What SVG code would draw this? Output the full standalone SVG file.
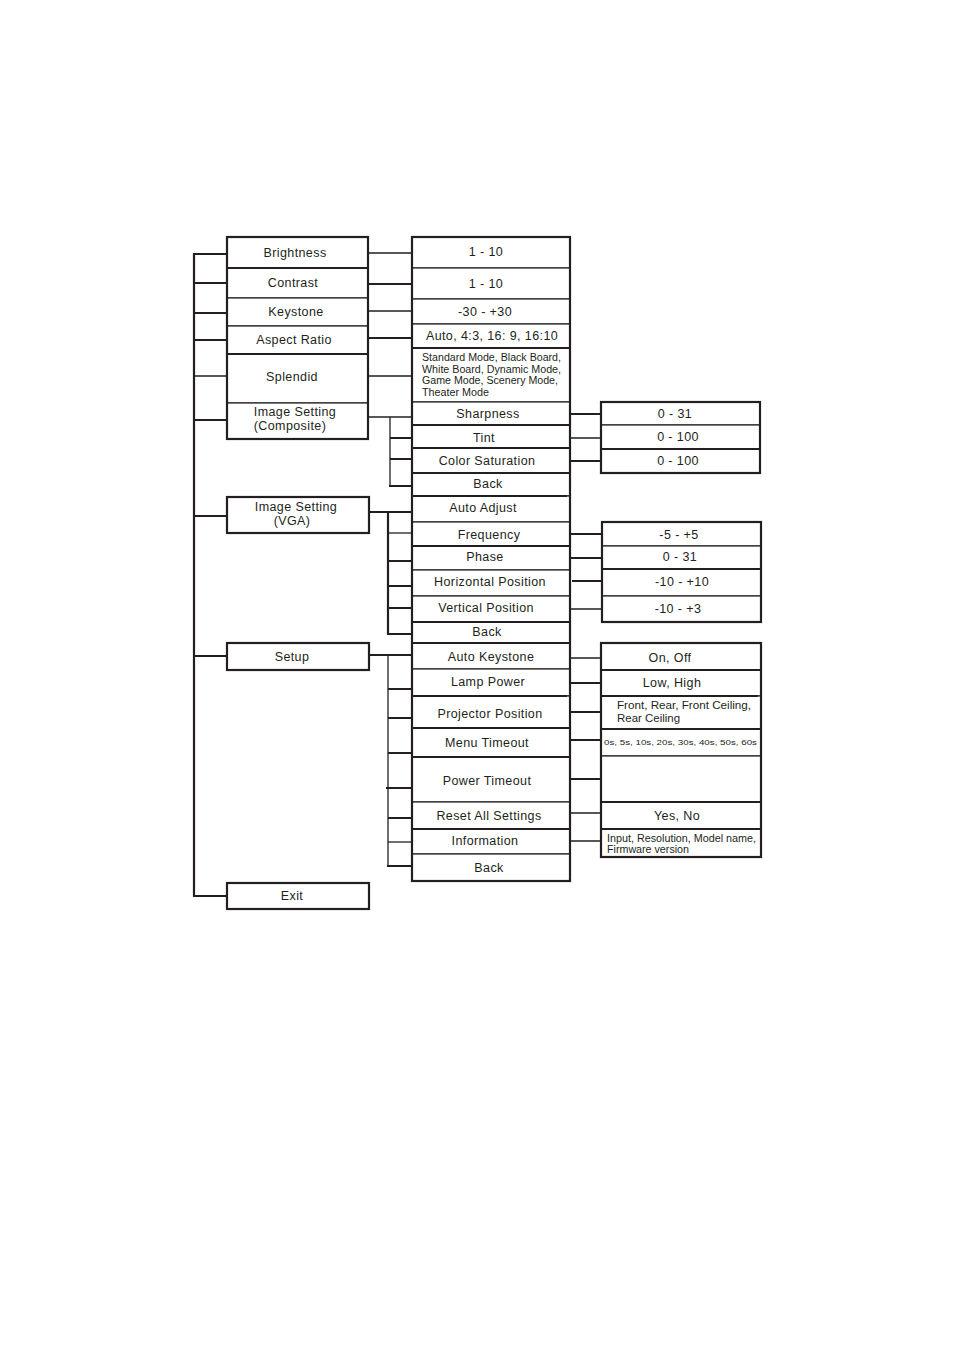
<svg xmlns="http://www.w3.org/2000/svg" width="954" height="1350" viewBox="0 0 954 1350">
<style>
.c{fill:#fff;stroke:#231f20;stroke-width:1.2}
.f{fill:none;stroke:#231f20;stroke-width:2.2}
.k{stroke:#231f20;stroke-width:2.2;fill:none}
.n{stroke:#231f20;stroke-width:1.3;fill:none}
text{font-family:"Liberation Sans",Arial,sans-serif;font-size:12.5px;letter-spacing:0.4px;fill:#231f20;text-anchor:middle}
text.s{font-size:10px;letter-spacing:0;text-anchor:start}
text.m{font-size:10.6px;letter-spacing:0;text-anchor:start}
text.xs{font-size:7.8px;letter-spacing:0;text-anchor:start}
</style>
<rect width="954" height="1350" fill="#fff"/>

<g id="connectors">
  <path class="k" d="M194,253V897"/>
  <path class="k" d="M194,254H227M194,283H227M194,313H227M194,340H227M194,420H227M194,516H227M194,656H227M194,896H227"/>
  <path class="n" d="M194,376H227"/>
  <path class="n" d="M368,253H412M368,311H412M368,376H412M368,417H412"/>
  <path class="k" d="M368,284H412M368,338H412"/>
  <path class="n" d="M390,417V486"/>
  <path class="k" d="M390,438H412M390,459H412M389,486H412"/>
  <path class="k" d="M368,512H412M388,511V635M388,561H412M388,586H412M388,608H412M387,634H412"/>
  <path class="n" d="M388,533H412"/>
  <path class="k" d="M368,655H412"/>
  <path class="n" d="M388,655V867"/>
  <path class="k" d="M388,689H412M388,718H412M388,753H412M386,788H412M388,818H412M387,866H412"/>
  <path class="n" d="M388,842H412"/>
  <path class="k" d="M570,414H601M570,461H601M570,534H602M570,558H602M572,581H602M570,683H601M570,712H601M570,740H601M570,779H601"/>
  <path class="n" d="M570,438H601M570,609H602M570,658H601M570,813H601M570,841H601"/>
</g>

<g id="brightness"><rect class="c" x="227" y="237" width="141" height="31"/><text x="295" y="256.5">Brightness</text></g>
<g id="contrast"><rect class="c" x="227" y="268" width="141" height="30"/><text x="293" y="286.5">Contrast</text></g>
<g id="keystone"><rect class="c" x="227" y="298" width="141" height="28"/><text x="296" y="315.5">Keystone</text></g>
<g id="aspect-ratio"><rect class="c" x="227" y="326" width="141" height="28"/><text x="294" y="343.5">Aspect Ratio</text></g>
<g id="splendid"><rect class="c" x="227" y="354" width="141" height="49"/><text x="292" y="380.5">Splendid</text></g>
<g id="image-setting-composite"><rect class="c" x="227" y="403" width="141" height="36"/><text x="295" y="415.5">Image Setting</text><text x="290" y="429.5">(Composite)</text></g>
<g id="image-setting-vga"><rect class="c" x="227" y="497" width="142" height="36"/><text x="296" y="511">Image Setting</text><text x="292" y="525">(VGA)</text></g>
<g id="setup"><rect class="c" x="227" y="643" width="142" height="27"/><text x="292" y="660.5">Setup</text></g>
<g id="exit"><rect class="c" x="227" y="883" width="142" height="26"/><text x="292" y="899.5">Exit</text></g>

<g id="brightness-range"><rect class="c" x="412" y="237" width="158" height="31"/><text x="486" y="255.5">1 - 10</text></g>
<g id="contrast-range"><rect class="c" x="412" y="268" width="158" height="31"/><text x="486" y="288">1 - 10</text></g>
<g id="keystone-range"><rect class="c" x="412" y="299" width="158" height="25"/><text x="485" y="315.5">-30 - +30</text></g>
<g id="aspect-options"><rect class="c" x="412" y="324" width="158" height="24"/><text x="492" y="339.5">Auto, 4:3, 16: 9, 16:10</text></g>
<g id="splendid-options"><rect class="c" x="412" y="348" width="158" height="54"/>
  <text class="s" x="422" y="361" textLength="139" lengthAdjust="spacingAndGlyphs">Standard Mode, Black Board,</text>
  <text class="s" x="422" y="372.5" textLength="139" lengthAdjust="spacingAndGlyphs">White Board, Dynamic Mode,</text>
  <text class="s" x="422" y="384" textLength="136" lengthAdjust="spacingAndGlyphs">Game Mode, Scenery Mode,</text>
  <text class="s" x="422" y="395.5" textLength="67" lengthAdjust="spacingAndGlyphs">Theater Mode</text></g>
<g id="sharpness"><rect class="c" x="412" y="402" width="158" height="23"/><text x="488" y="417.5">Sharpness</text></g>
<g id="tint"><rect class="c" x="412" y="425" width="158" height="23"/><text x="484" y="441.5">Tint</text></g>
<g id="color-saturation"><rect class="c" x="412" y="448" width="158" height="25"/><text x="487" y="464.5">Color Saturation</text></g>
<g id="back-composite"><rect class="c" x="412" y="473" width="158" height="23"/><text x="488" y="487.5">Back</text></g>
<g id="auto-adjust"><rect class="c" x="412" y="496" width="158" height="26"/><text x="483" y="511.5">Auto Adjust</text></g>
<g id="frequency"><rect class="c" x="412" y="522" width="158" height="24"/><text x="489" y="538.5">Frequency</text></g>
<g id="phase"><rect class="c" x="412" y="546" width="158" height="24"/><text x="485" y="560.5">Phase</text></g>
<g id="horizontal-position"><rect class="c" x="412" y="570" width="158" height="26"/><text x="490" y="585.5">Horizontal Position</text></g>
<g id="vertical-position"><rect class="c" x="412" y="596" width="158" height="26"/><text x="486" y="611.5">Vertical Position</text></g>
<g id="back-vga"><rect class="c" x="412" y="622" width="158" height="21"/><text x="487" y="635.5">Back</text></g>
<g id="auto-keystone"><rect class="c" x="412" y="643" width="158" height="26"/><text x="491" y="660.5">Auto Keystone</text></g>
<g id="lamp-power"><rect class="c" x="412" y="669" width="158" height="27"/><text x="488" y="685.5">Lamp Power</text></g>
<g id="projector-position"><rect class="c" x="412" y="696" width="158" height="32"/><text x="490" y="717.5">Projector Position</text></g>
<g id="menu-timeout"><rect class="c" x="412" y="728" width="158" height="29"/><text x="487" y="746.5">Menu Timeout</text></g>
<g id="power-timeout"><rect class="c" x="412" y="757" width="158" height="45"/><text x="487" y="784.5">Power Timeout</text></g>
<g id="reset-all-settings"><rect class="c" x="412" y="802" width="158" height="27"/><text x="489" y="819.5">Reset All Settings</text></g>
<g id="information"><rect class="c" x="412" y="829" width="158" height="25"/><text x="485" y="844.5">Information</text></g>
<g id="back-setup"><rect class="c" x="412" y="854" width="158" height="27"/><text x="489" y="871.5">Back</text></g>

<g id="sharpness-range"><rect class="c" x="601" y="402" width="159" height="23"/><text x="675" y="417.5">0 - 31</text></g>
<g id="tint-range"><rect class="c" x="601" y="425" width="159" height="24"/><text x="678" y="440.5">0 - 100</text></g>
<g id="color-saturation-range"><rect class="c" x="601" y="449" width="159" height="24"/><text x="678" y="464.5">0 - 100</text></g>
<g id="frequency-range"><rect class="c" x="602" y="522" width="159" height="24"/><text x="679" y="538.5">-5 - +5</text></g>
<g id="phase-range"><rect class="c" x="602" y="546" width="159" height="23"/><text x="680" y="560.5">0 - 31</text></g>
<g id="horizontal-range"><rect class="c" x="602" y="569" width="159" height="27"/><text x="682" y="585.5">-10 - +10</text></g>
<g id="vertical-range"><rect class="c" x="602" y="596" width="159" height="26"/><text x="678" y="612.5">-10 - +3</text></g>
<g id="auto-keystone-options"><rect class="c" x="601" y="643" width="160" height="27"/><text x="670" y="661.5">On, Off</text></g>
<g id="lamp-power-options"><rect class="c" x="601" y="670" width="160" height="26"/><text x="672" y="686.5">Low, High</text></g>
<g id="projector-position-options"><rect class="c" x="601" y="696" width="160" height="33"/>
  <text class="m" x="617" y="709" textLength="134" lengthAdjust="spacingAndGlyphs">Front, Rear, Front Ceiling,</text>
  <text class="m" x="617" y="721.5" textLength="63" lengthAdjust="spacingAndGlyphs">Rear Ceiling</text></g>
<g id="menu-timeout-options"><rect class="c" x="601" y="729" width="160" height="27"/><text class="xs" x="604" y="745" textLength="153" lengthAdjust="spacingAndGlyphs">0s, 5s, 10s, 20s, 30s,  40s, 50s, 60s</text></g>
<g id="power-timeout-options"><rect class="c" x="601" y="756" width="160" height="46"/></g>
<g id="reset-options"><rect class="c" x="601" y="802" width="160" height="27"/><text x="677" y="819.5">Yes, No</text></g>
<g id="information-options"><rect class="c" x="601" y="829" width="160" height="28"/>
  <text class="s" x="607" y="841.5" textLength="149" lengthAdjust="spacingAndGlyphs">Input, Resolution, Model name,</text>
  <text class="s" x="607" y="852.5" textLength="82" lengthAdjust="spacingAndGlyphs">Firmware version</text></g>

<g id="frames">
  <rect class="f" x="227" y="237" width="141" height="202"/>
  <path class="k" d="M227,268H368M227,354H368"/>
  <rect class="f" x="227" y="497" width="142" height="36"/>
  <rect class="f" x="227" y="643" width="142" height="27"/>
  <rect class="f" x="227" y="883" width="142" height="26"/>
  <rect class="f" x="412" y="237" width="158" height="644"/>
  <path class="k" d="M412,348H570M412,425H570M412,448H570M412,473H570M412,496H567M412,546H570M412,622H570M412,643H570M412,696H567M412,728H570M412,757H570M412,829H570"/>
  <rect class="f" x="601" y="402" width="159" height="71"/>
  <path class="k" d="M601,449H760"/>
  <rect class="f" x="602" y="522" width="159" height="100"/>
  <path class="k" d="M602,569H761"/>
  <rect class="f" x="601" y="643" width="160" height="214"/>
  <path class="k" d="M601,670H761M601,696H758M601,729H761M601,802H761M601,829H761"/>
</g>
</svg>
